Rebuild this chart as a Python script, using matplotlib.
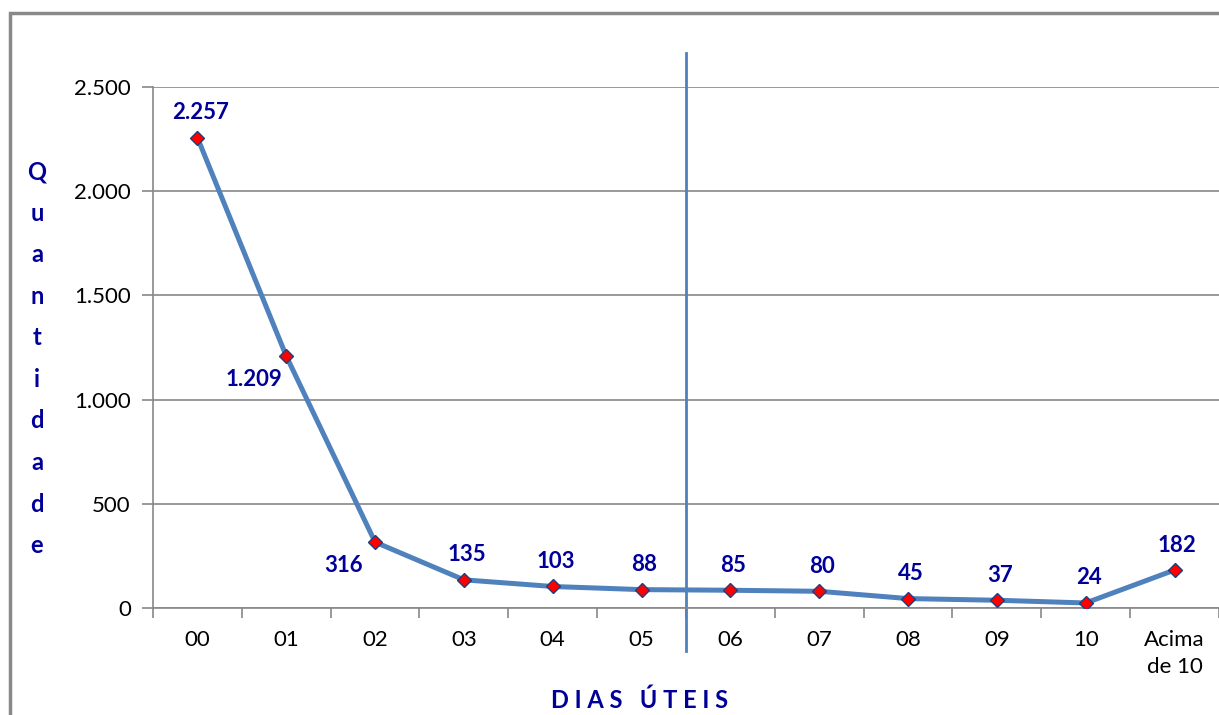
import matplotlib
matplotlib.use("Agg")
import matplotlib.pyplot as plt
from matplotlib.patches import Rectangle
from matplotlib.ticker import FuncFormatter

plt.rcParams['font.family'] = ['Lato', 'DejaVu Sans']

categorias = ['00', '01', '02', '03', '04', '05', '06', '07', '08', '09', '10', 'Acima\nde 10']
quantidade = [2257, 1209, 316, 135, 103, 88, 85, 80, 45, 37, 24, 182]
rotulos = ['2.257', '1.209', '316', '135', '103', '88', '85', '80', '45', '37', '24', '182']

azul = '#4F81BD'
azul_escuro = '#000099'
cinza = '#888888'

fig = plt.figure(figsize=(12.19, 7.15), dpi=100)
ax = fig.add_axes([0.1255, 0.1497, 0.8745, 0.7287])

# moldura do grafico
fig.patches.append(Rectangle((10 / 1219, -0.1), 1.2, (715 - 13) / 715 + 0.1,
                             transform=fig.transFigure, fill=False,
                             edgecolor=cinza, linewidth=2.5))

x = list(range(len(categorias)))
ax.plot(x, quantidade, color=azul, linewidth=3.6, marker='D', markersize=7.5,
        markerfacecolor='#FF0000', markeredgecolor='#1F3F7F', markeredgewidth=1, zorder=3)

for i, (v, r) in enumerate(zip(quantidade, rotulos)):
    if i in (1, 2):
        ax.annotate(r, (i, v), xytext=(-23, -17), textcoords='offset points',
                    ha='center', va='center', fontsize=16, fontweight='bold', color=azul_escuro)
    else:
        ax.annotate(r, (i, v), xytext=(2, 18), textcoords='offset points',
                    ha='center', va='center', fontsize=16, fontweight='bold', color=azul_escuro)

# linha vertical separando 05 e 06
ax.plot([5.5, 5.5], [1.065, -0.083], color=azul, linewidth=2,
        transform=ax.get_xaxis_transform(), clip_on=False, zorder=2)

ax.set_xlim(-0.5, 11.5)
ax.set_ylim(0, 2500)
ax.set_yticks([0, 500, 1000, 1500, 2000, 2500])
ax.yaxis.set_major_formatter(FuncFormatter(lambda v, p: f'{int(v):,}'.replace(',', '.')))
ax.grid(axis='y', color=cinza, linewidth=1.2)
ax.set_axisbelow(True)

ax.set_xticks(x)
ax.set_xticklabels(categorias, fontsize=16, linespacing=1.45)
ax.set_xticks([i - 0.5 for i in range(13)], minor=True)
ax.tick_params(axis='x', which='major', length=0, pad=16)
ax.tick_params(axis='x', which='minor', length=7, color=cinza, width=1.2)
ax.tick_params(axis='y', length=8, color=cinza, width=1.2, labelsize=16, pad=8)

for s in ['top', 'right']:
    ax.spines[s].set_visible(False)
for s in ['left', 'bottom']:
    ax.spines[s].set_color(cinza)
    ax.spines[s].set_linewidth(1.2)

# titulo do eixo y, letras empilhadas
for k, letra in enumerate('Quantidade'):
    fig.text(37 / 1219, 1 - (172 + 41.5 * k) / 715, letra, ha='center', va='center',
             fontsize=17, fontweight='bold', color=azul_escuro)

fig.text(640 / 1219, 1 - 700 / 715, 'D I A S   Ú T E I S', ha='center', va='center',
         fontsize=17, fontweight='bold', color=azul_escuro)

fig.savefig('out.png', dpi=100)
